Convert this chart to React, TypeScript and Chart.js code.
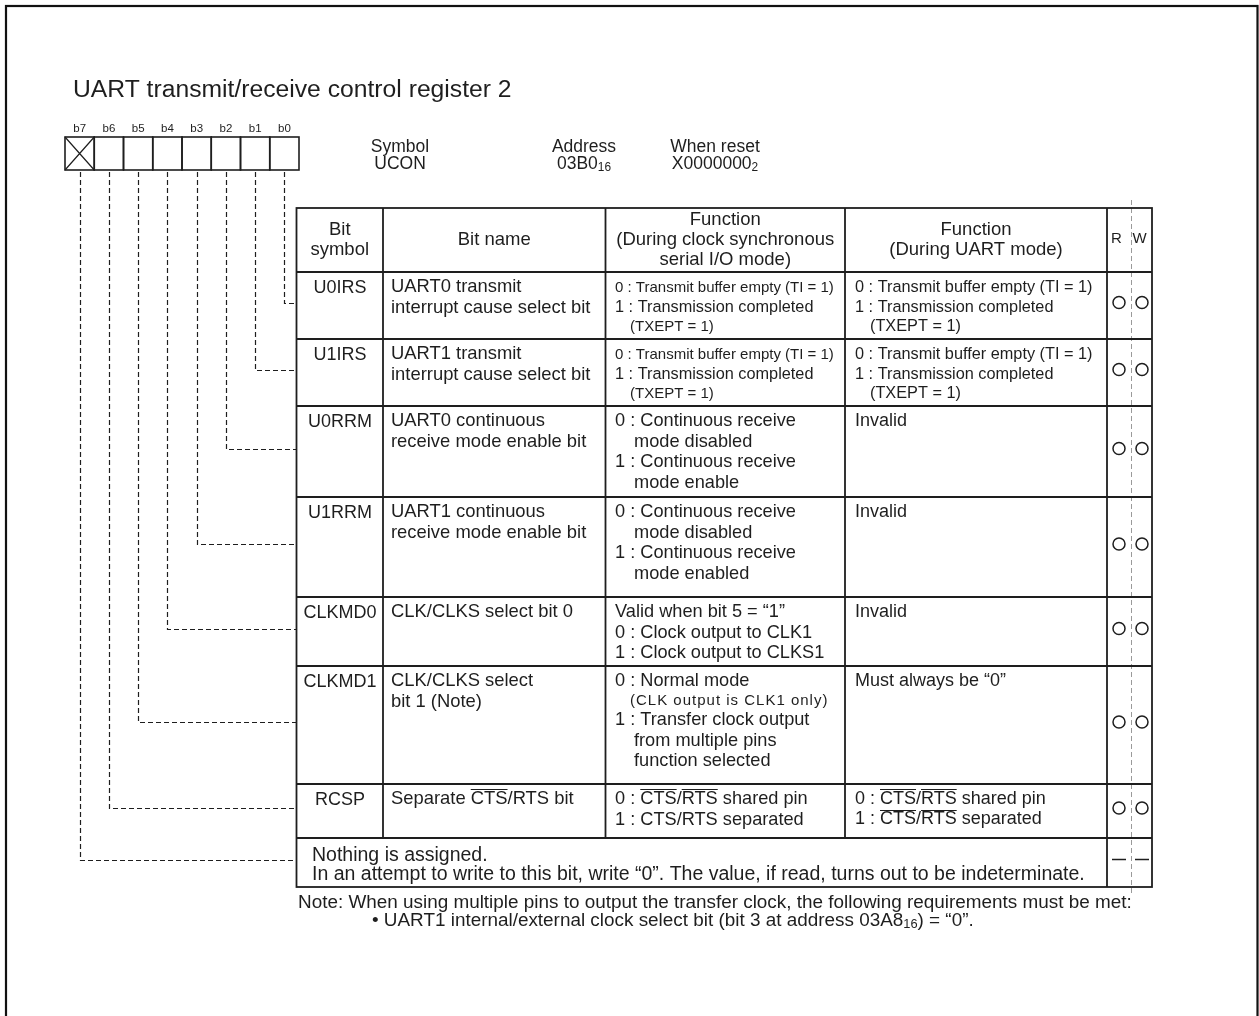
import React, { useEffect, useRef } from "react";
import { Chart, registerables } from "chart.js";

Chart.register(...registerables);

// ---------------- content / data ----------------
const titleText = "UART transmit/receive control register 2";
const bitLabels = ["b7", "b6", "b5", "b4", "b3", "b2", "b1", "b0"];
const symbolInfo = [
  ["Symbol", "UCON"],
  ["Address", "03B0_16_"],
  ["When reset", "X0000000_2_"],
];
const headerCells = [
  ["Bit", "symbol"],
  ["Bit name"],
  ["Function", "(During clock synchronous", "serial I/O mode)"],
  ["Function", "(During UART mode)"],
];
const rwHeader = ["R", "W"];
const bitSymbols = ["U0IRS", "U1IRS", "U0RRM", "U1RRM", "CLKMD0", "CLKMD1", "RCSP"];
const bitNames = [
  ["UART0 transmit", "interrupt cause select bit"],
  ["UART1 transmit", "interrupt cause select bit"],
  ["UART0 continuous", "receive mode enable bit"],
  ["UART1 continuous", "receive mode enable bit"],
  ["CLK/CLKS select bit 0"],
  ["CLK/CLKS select", "bit 1 (Note)"],
  ["Separate ~CTS~/RTS bit"],
];
// "s|" = small text, "w|" = small spaced text, "m|" = medium text, ">" = indented continuation line
const syncFunctions = [
  ["s|0 : Transmit buffer empty (TI = 1)", "m|1 : Transmission completed", "s|>(TXEPT = 1)"],
  ["s|0 : Transmit buffer empty (TI = 1)", "m|1 : Transmission completed", "s|>(TXEPT = 1)"],
  ["0 : Continuous receive", ">mode disabled", "1 : Continuous receive", ">mode enable"],
  ["0 : Continuous receive", ">mode disabled", "1 : Continuous receive", ">mode enabled"],
  ["Valid when bit 5 = \u201C1\u201D", "0 : Clock output to CLK1", "1 : Clock output to CLKS1"],
  ["0 : Normal mode", "w|>(CLK output is CLK1 only)", "1 : Transfer clock output", ">from multiple pins", ">function selected"],
  ["0 : ~CTS~/~RTS~ shared pin", "1 : CTS/RTS separated"],
];
const uartFunctions = [
  ["m|0 : Transmit buffer empty (TI = 1)", "m|1 : Transmission completed", "m|>(TXEPT = 1)"],
  ["m|0 : Transmit buffer empty (TI = 1)", "m|1 : Transmission completed", "m|>(TXEPT = 1)"],
  ["Invalid"],
  ["Invalid"],
  ["Invalid"],
  ["Must always be \u201C0\u201D"],
  ["0 : ~CTS~/~RTS~ shared pin", "1 : ~CTS~/~RTS~ separated"],
];
const nothingText = [
  "Nothing is assigned.",
  "In an attempt to write to this bit, write \u201C0\u201D. The value, if read, turns out to be indeterminate.",
];
// R / W marks per bit row (b0..b7): "O" = circle, "-" = dash
const readMarks = ["O", "O", "O", "O", "O", "O", "O", "-"];
const writeMarks = ["O", "O", "O", "O", "O", "O", "O", "-"];
const noteLines = [
  "Note: When using multiple pins to output the transfer clock, the following requirements must be met:",
  "\u2022 UART1 internal/external clock select bit (bit 3 at address 03A8_16_) = \u201C0\u201D.",
];

// ---------------- layout ----------------
const W = 1259;
const H = 1016;
const FONT = '"Liberation Sans", Arial, Helvetica, sans-serif';
const INK = "#1e1e1e";
const COLS = [296.5, 383, 605.5, 845, 1107, 1152];
const TEXT_X = [340, 391, 615, 855];
const RW_X = [1119, 1142];
const RW_DIV = 1131;
const ROWS = [208, 272, 339, 406, 497, 597, 666, 784, 838, 887];
const BOX = { left: 65, right: 299, top: 137, bottom: 170 };
const SIZE = { n: 18.2, m: 16.3, s: 15 };

const rowMid = (r: number) => (ROWS[r + 1] + ROWS[r + 2]) / 2 - 3;

type Seg = { t: string; over: boolean; sub: boolean };
function parse(str: string): Seg[] {
  const segs: Seg[] = [];
  let over = false, sub = false, cur = "";
  for (const ch of str) {
    if (ch === "~" || ch === "_") {
      if (cur) segs.push({ t: cur, over, sub });
      cur = "";
      if (ch === "~") over = !over; else sub = !sub;
    } else cur += ch;
  }
  if (cur) segs.push({ t: cur, over, sub });
  return segs;
}

function setSpacing(ctx: any, px: number) {
  if ("letterSpacing" in ctx) ctx.letterSpacing = `${px}px`;
}

function richWidth(ctx: CanvasRenderingContext2D, str: string, size: number) {
  let w = 0;
  for (const s of parse(str)) {
    ctx.font = `${s.sub ? size * 0.68 : size}px ${FONT}`;
    w += ctx.measureText(s.t).width;
  }
  return w;
}

function drawRich(ctx: CanvasRenderingContext2D, str: string, x: number, y: number, size: number, align: "left" | "center" = "left", spacing = 0) {
  setSpacing(ctx, spacing);
  let cx = x;
  if (align === "center") cx = x - richWidth(ctx, str, size) / 2;
  ctx.textBaseline = "middle";
  ctx.textAlign = "left";
  ctx.fillStyle = INK;
  for (const s of parse(str)) {
    const sz = s.sub ? size * 0.68 : size;
    ctx.font = `${sz}px ${FONT}`;
    const w = ctx.measureText(s.t).width;
    ctx.fillText(s.t, cx, s.sub ? y + size * 0.2 : y);
    if (s.over) {
      ctx.save();
      ctx.strokeStyle = INK;
      ctx.lineWidth = 1.1;
      ctx.setLineDash([]);
      ctx.beginPath();
      const oy = Math.round(y - size * 0.55) + 0.5;
      ctx.moveTo(cx, oy);
      ctx.lineTo(cx + w - spacing, oy);
      ctx.stroke();
      ctx.restore();
    }
    cx += w;
  }
  setSpacing(ctx, 0);
}

function drawLines(ctx: CanvasRenderingContext2D, lines: string[], x: number, top: number, align: "left" | "center" = "left", base = SIZE.n) {
  let y = top + 15;
  let prevKind = "n";
  lines.forEach((raw, i) => {
    let s = raw;
    let kind = "n";
    const m = /^([smw])\|/.exec(s);
    if (m) { kind = m[1]; s = s.slice(2); }
    const size = kind === "n" ? base : kind === "m" ? SIZE.m : SIZE.s;
    const spacing = kind === "w" ? 1 : 0;
    let dx = 0;
    if (s.startsWith(">")) { dx = kind === "n" ? 19 : 15; s = s.slice(1); }
    if (i === 0 && kind !== "n") y += 1;
    if (i > 0) y += kind !== "n" || prevKind !== "n" ? 19.5 : 20.5;
    drawRich(ctx, s, x + dx, y, size, align, spacing);
    prevKind = kind;
  });
}

const tablePlugin = {
  id: "registerTable",
  beforeDatasetsDraw(chart: any) {
    const ctx: CanvasRenderingContext2D = chart.ctx;
    const xs = chart.scales.x;
    const ys = chart.scales.y;
    const X = (v: number) => xs.getPixelForValue(v);
    const Y = (v: number) => ys.getPixelForValue(v);
    ctx.save();

    // outer frame
    ctx.strokeStyle = "#111";
    ctx.lineWidth = 2.2;
    ctx.strokeRect(X(6), Y(6), X(1257.5) - X(6), Y(1030) - Y(6));

    // title
    ctx.font = `24.7px ${FONT}`;
    ctx.fillStyle = INK;
    ctx.textBaseline = "middle";
    ctx.fillText(titleText, X(73), Y(90));

    // bit boxes
    const bw = (BOX.right - BOX.left) / 8;
    ctx.lineWidth = 1.6;
    ctx.strokeStyle = INK;
    for (let i = 0; i < 8; i++) {
      const x0 = BOX.left + i * bw;
      ctx.strokeRect(X(x0), Y(BOX.top), X(bw) - X(0), Y(BOX.bottom) - Y(BOX.top));
      ctx.font = `11.5px ${FONT}`;
      ctx.textAlign = "center";
      ctx.fillText(bitLabels[i], X(x0 + bw / 2), Y(BOX.top - 8));
    }
    ctx.textAlign = "left";
    ctx.lineWidth = 1.2;
    ctx.beginPath();
    ctx.moveTo(X(BOX.left), Y(BOX.top));
    ctx.lineTo(X(BOX.left + bw), Y(BOX.bottom));
    ctx.moveTo(X(BOX.left + bw), Y(BOX.top));
    ctx.lineTo(X(BOX.left), Y(BOX.bottom));
    ctx.stroke();

    // symbol / address / reset
    const infoX = [400, 584, 715];
    symbolInfo.forEach((pair, i) => {
      drawRich(ctx, pair[0], X(infoX[i]), Y(147), 17.5, "center");
      drawRich(ctx, pair[1], X(infoX[i]), Y(164), 17.5, "center");
    });

    // dashed connectors (bit k -> row k)
    ctx.setLineDash([5, 3]);
    ctx.lineWidth = 1.2;
    ctx.strokeStyle = INK;
    for (let i = 0; i < 8; i++) {
      const bit = 7 - i;
      const cx = Math.round(BOX.left + i * bw + bw / 2) + 0.5;
      const cy = Math.round(rowMid(bit)) + 0.5;
      ctx.beginPath();
      ctx.moveTo(X(cx), Y(BOX.bottom + 2));
      ctx.lineTo(X(cx), Y(cy));
      ctx.lineTo(X(COLS[0]), Y(cy));
      ctx.stroke();
    }
    // R/W divider
    ctx.strokeStyle = "#9a9a9a";
    ctx.lineWidth = 1;
    ctx.setLineDash([5, 3]);
    ctx.beginPath();
    ctx.moveTo(X(RW_DIV + 0.5), Y(200));
    ctx.lineTo(X(RW_DIV + 0.5), Y(896));
    ctx.stroke();
    ctx.setLineDash([]);

    // table grid
    ctx.strokeStyle = INK;
    ctx.lineWidth = 1.8;
    const top = ROWS[0];
    const bottom = ROWS[ROWS.length - 1];
    ctx.strokeRect(X(COLS[0]), Y(top), X(COLS[5]) - X(COLS[0]), Y(bottom) - Y(top));
    ctx.beginPath();
    for (let r = 1; r < ROWS.length - 1; r++) {
      ctx.moveTo(X(COLS[0]), Y(ROWS[r]));
      ctx.lineTo(X(COLS[5]), Y(ROWS[r]));
    }
    for (let c = 1; c < 5; c++) {
      const yEnd = c === 4 ? bottom : ROWS[ROWS.length - 2];
      ctx.moveTo(X(COLS[c]), Y(top));
      ctx.lineTo(X(COLS[c]), Y(yEnd));
    }
    ctx.stroke();

    // header
    const hdrMid = (ROWS[0] + ROWS[1]) / 2;
    headerCells.forEach((lines, c) => {
      const cx = (COLS[c] + COLS[c + 1]) / 2;
      const startY = hdrMid - ((lines.length - 1) * 20) / 2;
      lines.forEach((l, k) => drawRich(ctx, l, X(cx), Y(startY + k * 20), 18.5, "center"));
    });
    rwHeader.forEach((h, k) => drawRich(ctx, h, X(RW_X[k] - 2.5), Y(hdrMid - 1), 15, "center"));

    // body rows
    for (let r = 0; r < bitSymbols.length; r++) {
      const rt = ROWS[r + 1];
      drawLines(ctx, [bitSymbols[r]], X(TEXT_X[0]), Y(rt + 1.5), "center", 18);
      drawLines(ctx, bitNames[r], X(TEXT_X[1]), Y(rt), "left", 18.4);
      drawLines(ctx, syncFunctions[r], X(TEXT_X[2]), Y(rt), "left", SIZE.n);
      drawLines(ctx, uartFunctions[r], X(TEXT_X[3]), Y(rt), "left", 18);
    }
    // nothing assigned row
    const nt = ROWS[ROWS.length - 2];
    nothingText.forEach((l, k) => drawRich(ctx, l, X(312), Y(nt + 18 + k * 19), 19.5));

    // note
    drawRich(ctx, noteLines[0], X(298), Y(903), 18.9);
    drawRich(ctx, noteLines[1], X(372), Y(921), 18.9);

    ctx.restore();
  },
};

export default function App() {
  const ref = useRef<HTMLCanvasElement | null>(null);
  useEffect(() => {
    if (!ref.current) return;
    const markPts = (marks: string[], x: number, kind: string) =>
      marks
        .map((m, i) => ({ m, i }))
        .filter((o) => o.m === kind)
        .map((o) => ({ x, y: rowMid(o.i) }));
    const chart = new Chart(ref.current, {
      type: "scatter",
      data: {
        datasets: [
          { label: "R", data: markPts(readMarks, RW_X[0], "O"), pointStyle: "circle", pointRadius: 6, borderColor: INK, backgroundColor: "#fff", borderWidth: 1.5 },
          { label: "W", data: markPts(writeMarks, RW_X[1], "O"), pointStyle: "circle", pointRadius: 6, borderColor: INK, backgroundColor: "#fff", borderWidth: 1.5 },
          { label: "R-", data: markPts(readMarks, RW_X[0], "-"), pointStyle: "line", pointRadius: 7, borderColor: INK, borderWidth: 1.5 },
          { label: "W-", data: markPts(writeMarks, RW_X[1], "-"), pointStyle: "line", pointRadius: 7, borderColor: INK, borderWidth: 1.5 },
        ],
      },
      options: {
        animation: false,
        responsive: false,
        maintainAspectRatio: false,
        devicePixelRatio: 1,
        layout: { padding: 0, autoPadding: false },
        events: [],
        plugins: { legend: { display: false }, tooltip: { enabled: false }, title: { display: false } },
        scales: {
          x: { type: "linear", min: 0, max: W, display: false },
          y: { type: "linear", min: 0, max: H, reverse: true, display: false },
        },
        clip: false as any,
      } as any,
      plugins: [tablePlugin],
    });
    return () => chart.destroy();
  }, []);
  return (
    <div style={{ position: "fixed", left: 0, top: 0, width: W, height: H, background: "#fff" }}>
      <canvas ref={ref} width={W} height={H} style={{ width: W, height: H, display: "block" }} />
    </div>
  );
}
